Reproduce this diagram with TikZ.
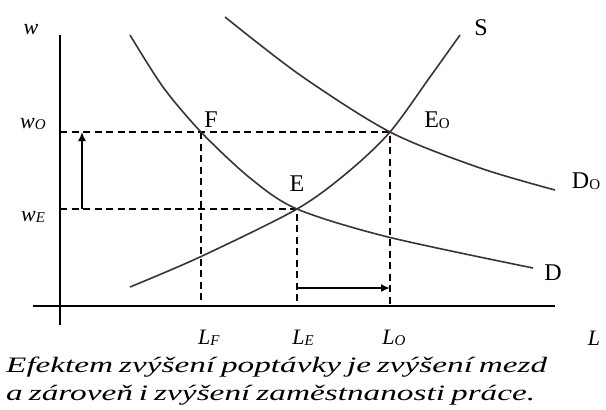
\documentclass[tikz,border=0pt]{standalone}
\usepackage{fontspec}
\setmainfont{Liberation Serif}
\usetikzlibrary{arrows.meta}
\definecolor{curvecol}{HTML}{3E3035}
\newcommand\lsub[1]{\raisebox{-1.5pt}{\fontsize{15}{15}\selectfont #1}}
\newcommand\captext[1]{\itshape\fontsize{22}{24}\selectfont\spaceskip=0.18em\relax #1}
\begin{document}
\begin{tikzpicture}[x=1pt,y=-1pt,
 axis/.style={line width=1.9pt},
 curve/.style={line width=1.6pt,color=curvecol},
 guide/.style={line width=1.5pt,dash pattern=on 7pt off 4.5pt},
 shiftarrow/.style={line width=1.6pt,-{Latex[length=9pt,width=8pt]}},
 lbl/.style={font=\fontsize{24}{26}\selectfont, inner sep=0pt},
 albl/.style={font=\fontsize{22}{24}\selectfont, inner sep=0pt},
 caption/.style={inner sep=0pt, anchor=base west},
]
\useasboundingbox (0,0) rectangle (606,410);
% key points
\coordinate (O) at (60,306);
\coordinate (F) at (201,132);
\coordinate (E) at (297,209);
\coordinate (EO) at (390,132);
\coordinate (ytop) at (60,35);
\coordinate (ybot) at (60,325);
\coordinate (xl) at (33,306);
\coordinate (xr) at (555,306);
% axes
\draw[axis] (ytop) -- (ybot);
\draw[axis] (xl) -- (xr);
% guides
\draw[guide] (O |- EO) -- (EO) -- (EO |- O);
\draw[guide] (O |- E) -- (E) -- (E |- O);
\draw[guide] (F) -- (F |- O);
% curves
\draw[curve] plot[smooth,tension=0.5] coordinates {(130,35) (163,87) (F) (250,178) (E) (388,237) (533,268)};
\draw[curve] plot[smooth,tension=0.5] coordinates {(225,17) (300,75) (EO) (480,168) (555,190)};
\draw[curve] plot[smooth,tension=0.5] coordinates {(130,287) (200,257) (E) (348,172) (EO) (430,77) (460,35)};
% shift arrows
\coordinate (va) at (82,209);
\coordinate (vb) at (82,132);
\draw[shiftarrow] (va) -- (vb);
\coordinate (ha) at (297,288);
\coordinate (hb) at (390,288);
\draw[shiftarrow] (ha) -- (hb);
% labels
\node[albl] (lw) at (31,30) {\textit{w}};
\node[albl] (lwo) at (33,124) {\textit{w}\lsub{\textit{O}}};
\node[albl] (lwe) at (33,217) {\textit{w}\lsub{\textit{E}}};
\node[lbl] (lF) at (211,120) {F};
\node[lbl] (lE) at (297,184) {E};
\node[lbl] (lEO) at (437,120) {E\lsub{O}};
\node[lbl] (lS) at (481,28) {S};
\node[lbl] (lDO) at (586,181) {D\lsub{O}};
\node[lbl] (lD) at (553,273) {D};
\node[albl] (lLF) at (209,338) {\textit{L}\lsub{\textit{F}}};
\node[albl] (lLE) at (303,338) {\textit{L}\lsub{\textit{E}}};
\node[albl] (lLO) at (394,338) {\textit{L}\lsub{\textit{O}}};
\node[albl] (lL) at (594,338) {\textit{L}};
\node[caption] (c1) at (6,372) {\resizebox{541pt}{\height}{\captext{Efektem zvýšení poptávky je zvýšení mezd}}};
\node[caption] (c2) at (6,400) {\resizebox{529pt}{\height}{\captext{a zároveň i zvýšení zaměstnanosti práce.}}};
\end{tikzpicture}
\end{document}
